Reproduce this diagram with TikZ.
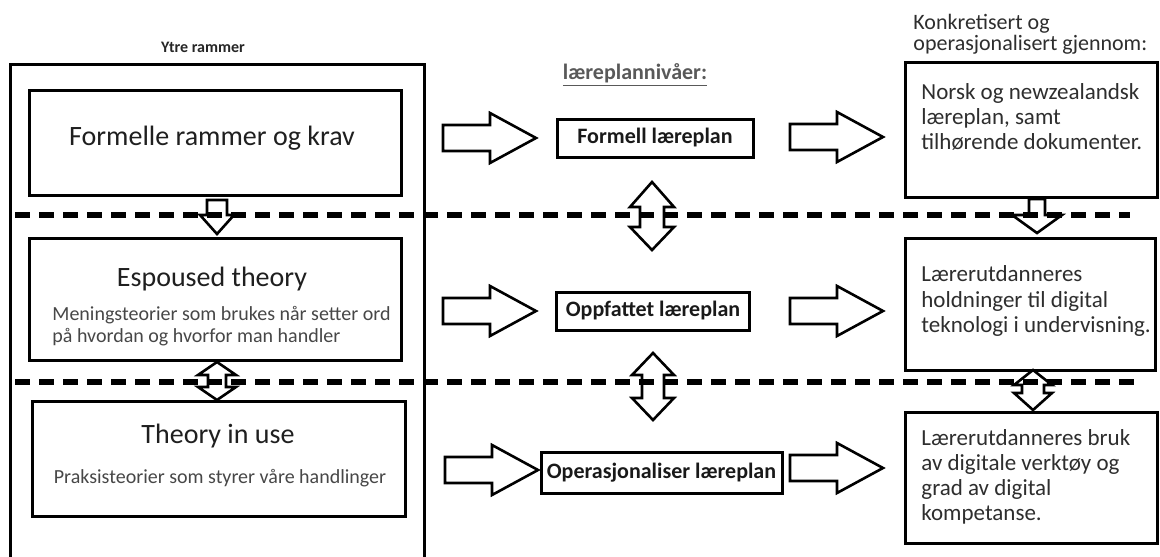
\documentclass[tikz,border=0pt]{standalone}
\usepackage{fontspec}
\setmainfont{Carlito}
\usetikzlibrary{calc}

\tikzset{
  box/.style={draw=black, line width=1.5pt, fill=white, inner sep=0pt},
  blockarrow/.style={draw=black, line width=1.3pt, fill=white, line join=miter},
  divider/.style={draw=black, line width=2.6pt, dash pattern=on 7.5pt off 4.5pt},
  ttl/.style={font=\fontsize{14}{16}\selectfont, text=black!88, inner sep=0pt},
  sub/.style={font=\fontsize{10}{11}\selectfont, text=black!72, align=left, inner sep=0pt},
  lvl/.style={font=\bfseries\fontsize{11}{13}\selectfont, text=black!90, inner sep=0pt},
  side/.style={font=\fontsize{11.5}{12.6}\selectfont, text=black!82, align=left, anchor=west, inner sep=0pt},
}

% hollow block arrow pointing right; #1,#2 = base of the head
\newcommand\rightblock[2]{%
  \draw[blockarrow] (#1-47,#2-13) -- (#1,#2-13) -- (#1,#2-25) -- (#1+46,#2)
    -- (#1,#2+25) -- (#1,#2+13) -- (#1-47,#2+13) -- cycle;}
% hollow block arrow pointing down: centre x, shaft top, head base, tip, shaft half, head half
\newcommand\downblock[6]{%
  \draw[blockarrow] (#1-#5,#2) -- (#1+#5,#2) -- (#1+#5,#3) -- (#1+#6,#3) -- (#1,#4)
    -- (#1-#6,#3) -- (#1-#5,#3) -- cycle;}
% hollow vertical double arrow: centre x, top tip, upper base, lower base, bottom tip, shaft half, head half
\newcommand\dblblock[7]{%
  \draw[blockarrow] (#1,#2) -- (#1+#7,#3) -- (#1+#6,#3) -- (#1+#6,#4) -- (#1+#7,#4)
    -- (#1,#5) -- (#1-#7,#4) -- (#1-#6,#4) -- (#1-#6,#3) -- (#1-#7,#3) -- cycle;}

\begin{document}
\begin{tikzpicture}[x=0.5pt,y=-0.5pt]
\useasboundingbox[fill=white] (0,0) rectangle (1160,556);

% left column: outer frame and the three levels of theory
\node[font=\bfseries\fontsize{8}{10}\selectfont, text=black!85] (ytre) at (203,47) {Ytre rammer};
\node[box, fill=none, minimum width=207pt, minimum height=267.5pt] (frame) at (217,332.5) {};

\node[box, minimum width=186pt, minimum height=52pt] (b1) at (215,143) {};
\node[ttl] (t1) at (212,138) {Formelle rammer og krav};

\node[box, minimum width=186pt, minimum height=61pt] (b2) at (215,299) {};
\node[ttl] (t2) at (212,279) {Espoused theory};
\node[sub, anchor=west] (s2) at (52,326) {Meningsteorier som brukes når setter ord\\på hvordan og hvorfor man handler};

\node[box, minimum width=186.5pt, minimum height=57.5pt] (b3) at (218.5,458.5) {};
\node[ttl] (t3) at (218,436) {Theory in use};
\node[sub] (s3) at (220,478) {Praksisteorier som styrer våre handlinger};

% middle column: curriculum levels
\node[font=\bfseries\fontsize{11}{13}\selectfont, text=black!65] (niv) at (635,75) {\underline{læreplannivåer:}};
\node[box, minimum width=98pt, minimum height=19pt, lvl] (f1) at (655,138) {Formell læreplan};
\node[box, minimum width=96.5pt, minimum height=19pt, lvl] (f2) at (653,311) {Oppfattet læreplan};
\node[box, minimum width=120.5pt, minimum height=20.5pt, lvl] (f3) at (661.5,472.5) {Operasjonaliser læreplan};

% right column: how each level is made concrete
\node[side, font=\fontsize{11}{10.6}\selectfont] (konk) at (913,34) {Konkretisert og\\operasjonalisert gjennom:};
\node[box, minimum width=126pt, minimum height=67pt] (r1) at (1031,130) {};
\node[side] (rt1) at (921,117) {Norsk og newzealandsk\\læreplan, samt\\tilhørende dokumenter.};
\node[box, minimum width=125pt, minimum height=66pt] (r2) at (1030,304) {};
\node[side] (rt2) at (921,301) {Lærerutdanneres\\holdninger til digital\\teknologi i undervisning.};
\node[box, minimum width=126pt, minimum height=65.5pt] (r3) at (1031,477.5) {};
\node[side] (rt3) at (921,477) {Lærerutdanneres bruk\\av digitale verktøy og\\grad av digital\\kompetanse.};

% horizontal block arrows
\rightblock{490}{138}
\rightblock{837}{137}
\rightblock{490}{311}
\rightblock{837}{311}
\rightblock{492}{470}
\rightblock{837}{468}

% vertical block arrows
\downblock{217}{200}{215}{234}{10}{17}
\downblock{1037}{199}{215}{233}{8}{25}
\dblblock{217}{362}{375}{387}{400}{9}{19}
\dblblock{652}{182}{207}{227}{250}{12}{22}
\dblblock{653}{353}{375}{398}{420}{11}{21}
\dblblock{1033}{370}{385}{393}{410}{11}{19}

% dashed dividers between the levels
\coordinate (d1a) at (15,215);
\coordinate (d1b) at (1130,215);
\coordinate (d2a) at (15,382);
\coordinate (d2b) at (1140,382);
\draw[divider] (d1a) -- (d1b);
\draw[divider] (d2a) -- (d2b);
\end{tikzpicture}
\end{document}
